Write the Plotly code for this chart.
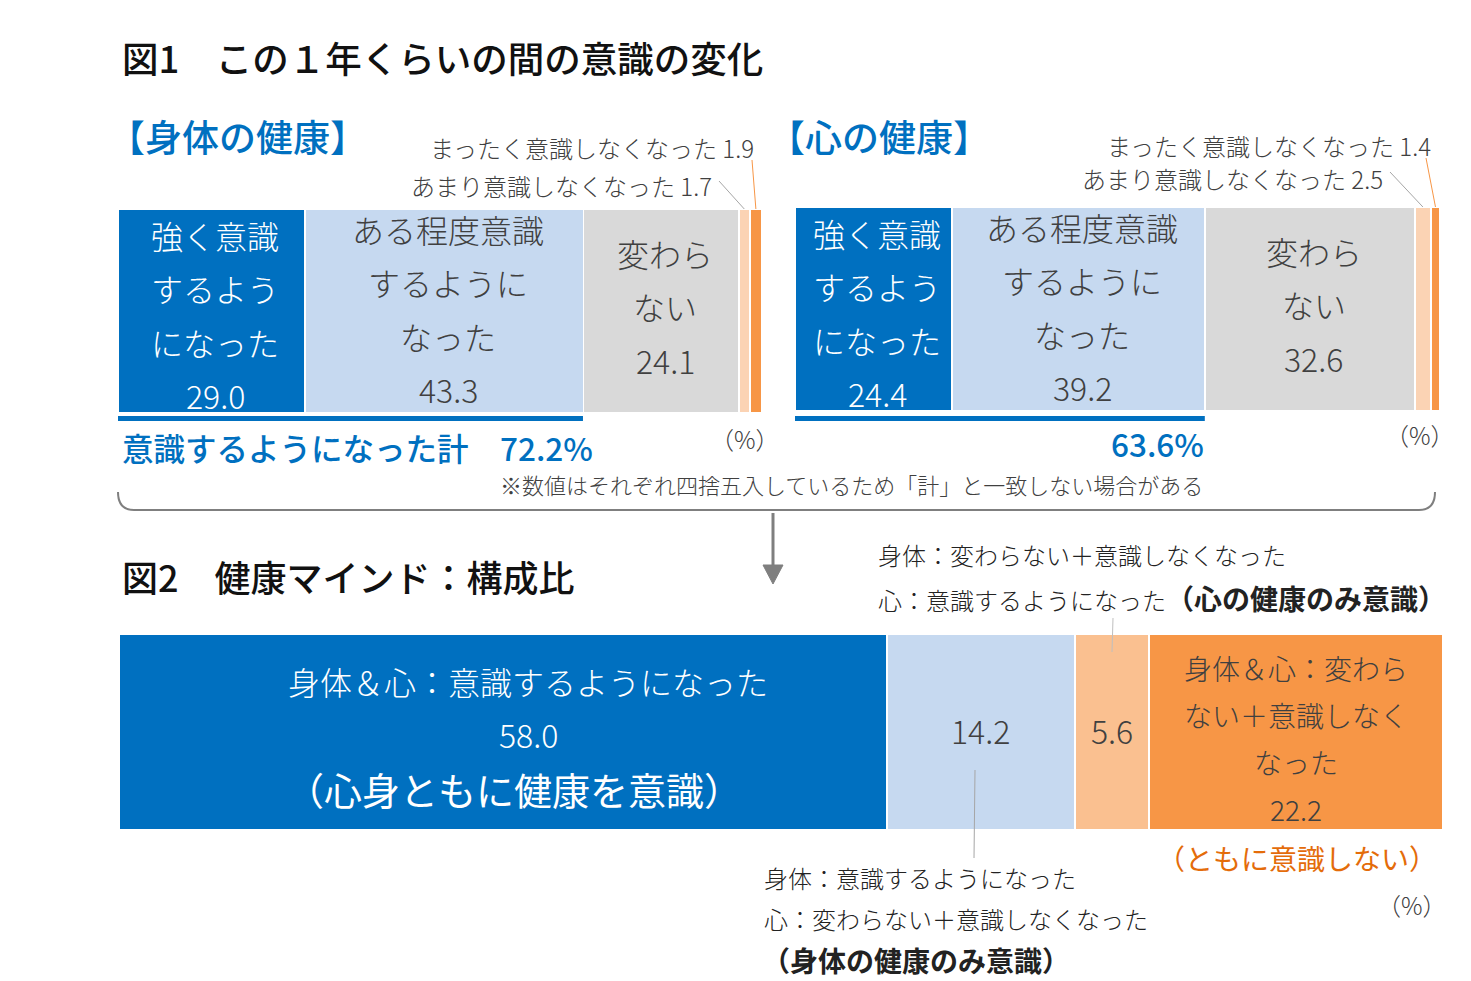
import plotly.graph_objects as go

W, H = 1471, 981


def px(x):
    return x / W


def py(y):
    return 1 - y / H


# ---------------- data ----------------
fig1_categories = ["強く意識するようになった", "ある程度意識するようになった", "変わらない",
                   "あまり意識しなくなった", "まったく意識しなくなった"]
body_values = [29.0, 43.3, 24.1, 1.7, 1.9]
mind_values = [24.4, 39.2, 32.6, 2.5, 1.4]
body_total = 72.2
mind_total = 63.6

fig2_categories = ["身体＆心：意識するようになった", "身体のみ意識", "心のみ意識", "ともに意識しない"]
fig2_values = [58.0, 14.2, 5.6, 22.2]

seg_lines_fig1 = [["強く意識", "するよう", "になった"],
                  ["ある程度意識", "するように", "なった"],
                  ["変わら", "ない"]]

colors1 = ["#0070C0", "#C6D9F0", "#D9D9D9", "#FBD3B4", "#F79646"]
colors2 = ["#0070C0", "#C6D9F0", "#FAC090", "#F79646"]

FONT = "Noto Sans CJK JP"
DARK = "#404040"
BLUE = "#0070C0"
GRAY = "#7F7F7F"

fig = go.Figure()

# ---------------- bars ----------------
def add_bars(values, colors, names, xa, ya):
    for v, c, n in zip(values, colors, names):
        fig.add_trace(go.Bar(
            x=[v], y=[0], orientation="h", width=1, name=n,
            marker=dict(color=c, line=dict(color="white", width=1.5)),
            xaxis=xa, yaxis=ya, hoverinfo="skip", showlegend=False))


add_bars(body_values, colors1, fig1_categories, "x", "y")
add_bars(mind_values, colors1, fig1_categories, "x2", "y2")
add_bars(fig2_values, colors2, fig2_categories, "x3", "y3")

ax = dict(visible=False, fixedrange=True)
fig.update_layout(
    width=W, height=H, autosize=False,
    margin=dict(l=0, r=0, t=0, b=0),
    paper_bgcolor="white", plot_bgcolor="white",
    barmode="stack", bargap=0,
    font=dict(family=FONT, color=DARK),
    xaxis=dict(ax, domain=[px(118), px(762)], range=[0, sum(body_values)], anchor="y"),
    yaxis=dict(ax, domain=[py(413), py(209)], range=[-0.5, 0.5], anchor="x"),
    xaxis2=dict(ax, domain=[px(795), px(1440)], range=[0, sum(mind_values)], anchor="y2"),
    yaxis2=dict(ax, domain=[py(411), py(207)], range=[-0.5, 0.5], anchor="x2"),
    xaxis3=dict(ax, domain=[px(119), px(1443)], range=[0, sum(fig2_values)], anchor="y3"),
    yaxis3=dict(ax, domain=[py(830), py(634)], range=[-0.5, 0.5], anchor="x3"),
)

annotations = []
shapes = []
DY = -2


def txt(text, x, y, size, color=DARK, xanchor="center", xref="paper", weight=300):
    annotations.append(dict(
        text=text, x=x, y=py(y + DY), xref=xref, yref="paper",
        xanchor=xanchor, yanchor="middle", showarrow=False,
        font=dict(family=FONT, size=size, color=color, weight=weight)))


def centers(values):
    out, c = [], 0
    for v in values:
        out.append(c + v / 2)
        c += v
    return out


# ---------------- titles ----------------
txt("図1　この１年くらいの間の意識の変化", px(120), 60, 36.5, "#111111", "left", weight=500)
txt("【身体の健康】", px(106), 138, 37, BLUE, "left", weight=500)
txt("【心の健康】", px(766), 138, 37, BLUE, "left", weight=500)
txt("図2　健康マインド：構成比", px(120), 578, 36, "#111111", "left", weight=500)

# ---------------- figure 1 segment texts ----------------
step = 53.3
for values, xr, starts in [(body_values, "x", [237, 231, 255]),
                           (mind_values, "x2", [235, 229, 253])]:
    cs = centers(values)
    for i in range(3):
        color = "white" if i == 0 else DARK
        lines = seg_lines_fig1[i] + [f"{values[i]:.1f}"]
        for k, ln in enumerate(lines):
            txt(ln, cs[i] + 0.6, starts[i] + k * step, 32, color, "center", xref=xr)

# small segment callouts
txt(f"まったく意識しなくなった {body_values[4]:.1f}", px(756), 150, 24, DARK, "right")
txt(f"あまり意識しなくなった {body_values[3]:.1f}", px(714), 187, 24, DARK, "right")
txt(f"まったく意識しなくなった {mind_values[4]:.1f}", px(1433), 148, 24, DARK, "right")
txt(f"あまり意識しなくなった {mind_values[3]:.1f}", px(1385), 181, 24, DARK, "right")

cb = centers(body_values)
cm = centers(mind_values)


def leader_to_seg(x_start_px, y_start_px, xdata, xref, y_end_px, color):
    dom = fig.layout[xref.replace("x", "xaxis")].domain
    rng = fig.layout[xref.replace("x", "xaxis")].range
    xp = dom[0] + (xdata - rng[0]) / (rng[1] - rng[0]) * (dom[1] - dom[0])
    shapes.append(dict(type="line", xref="paper", yref="paper",
                       x0=px(x_start_px), y0=py(y_start_px), x1=xp, y1=py(y_end_px),
                       line=dict(color=color, width=1)))


leader_to_seg(719, 181, cb[3], "x", 209, "#A6A6A6")
leader_to_seg(752, 160, cb[4], "x", 209, "#F79646")
leader_to_seg(1390, 172, cm[3], "x2", 207, "#A6A6A6")
leader_to_seg(1426, 158, cm[4], "x2", 207, "#F79646")

# totals underline
shapes.append(dict(type="rect", xref="x", yref="paper", x0=0, x1=body_total,
                   y0=py(421), y1=py(416), fillcolor=BLUE, line=dict(width=0)))
shapes.append(dict(type="rect", xref="x2", yref="paper", x0=0, x1=mind_total,
                   y0=py(421), y1=py(416), fillcolor=BLUE, line=dict(width=0)))
txt(f"意識するようになった計　{body_total:.1f}%", px(120), 449, 31.5, BLUE, "left", weight=500)
txt(f"{mind_total:.1f}%", px(1206), 445, 31.5, BLUE, "right", weight=500)

txt("（%）", px(745), 440, 24, DARK)
txt("（%）", px(1420), 436, 24, DARK)
txt("※数値はそれぞれ四捨五入しているため「計」と一致しない場合がある", px(852), 486, 22, DARK)


def P(x, y):
    return f"{px(x)} {py(y)}"


# brace
shapes.append(dict(type="path", xref="paper", yref="paper",
                   path=f"M {P(118, 492)} Q {P(118, 510)} {P(134, 510)} L {P(1419, 510)} "
                        f"Q {P(1435, 510)} {P(1435, 492)}",
                   line=dict(color=GRAY, width=2)))
# arrow
shapes.append(dict(type="line", xref="paper", yref="paper",
                   x0=px(773), y0=py(513), x1=px(773), y1=py(566),
                   line=dict(color=GRAY, width=3)))
shapes.append(dict(type="path", xref="paper", yref="paper",
                   path=f"M {P(763, 565)} L {P(783, 565)} L {P(773, 584)} Z",
                   fillcolor=GRAY, line=dict(color=GRAY, width=1)))

# ---------------- figure 2 texts ----------------
c2 = centers(fig2_values)
txt(fig2_categories[0], px(528), 683, 32, "white")
txt(f"{fig2_values[0]:.1f}", px(528), 736, 32, "white")
txt("（心身ともに健康を意識）", px(514), 790, 38, "white", weight=400)
txt(f"{fig2_values[1]:.1f}", c2[1], 732, 32, DARK, xref="x3")
txt(f"{fig2_values[2]:.1f}", c2[2], 732, 32, DARK, xref="x3")
for k, ln in enumerate(["身体＆心：変わら", "ない＋意識しなく", "なった", f"{fig2_values[3]:.1f}"]):
    txt(ln, c2[3], 670 + k * 47, 28, DARK, xref="x3")
txt("（ともに意識しない）", px(1297), 860, 28, "#E46C0A", weight=400)
txt("（%）", px(1412), 906, 24, DARK)

txt("身体：変わらない＋意識しなくなった", px(876), 556, 24, "#222222", "left")
txt("心：意識するようになった<span style='font-size:28px'><b>（心の健康のみ意識）</b></span>",
    px(876), 600, 24, "#222222", "left")
shapes.append(dict(type="line", xref="paper", yref="paper",
                   x0=px(1113), y0=py(618), x1=px(1112), y1=py(652),
                   line=dict(color="#BFBFBF", width=1)))

txt("身体：意識するようになった", px(762), 879, 24, "#222222", "left")
txt("心：変わらない＋意識しなくなった", px(762), 920, 24, "#222222", "left")
txt("<b>（身体の健康のみ意識）</b>", px(760), 962, 28, "#222222", "left")
shapes.append(dict(type="line", xref="paper", yref="paper",
                   x0=px(975), y0=py(770), x1=px(974), y1=py(858),
                   line=dict(color="#A6A6A6", width=1)))

fig.update_layout(annotations=annotations, shapes=shapes)
fig.write_html("out.html",
               config={"displayModeBar": False, "staticPlot": True},
               post_script="document.body.style.margin='0';document.body.style.padding='0';"
                           "document.documentElement.style.overflow='hidden';")
